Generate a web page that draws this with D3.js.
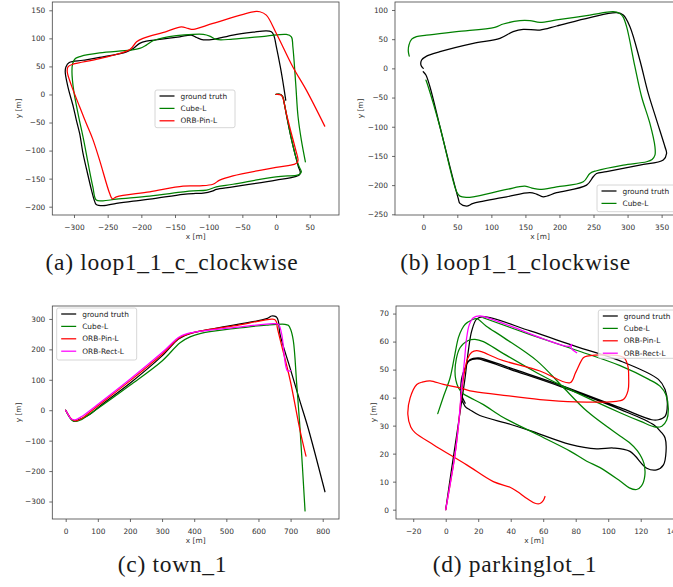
<!DOCTYPE html>
<html>
<head>
<meta charset="utf-8">
<script src="https://cdn.jsdelivr.net/npm/d3@7"></script>
<style>
  body { margin: 0; background: #fff; overflow: hidden; }
  svg { display: block; }
</style>
</head>
<body>
<svg id="fig" width="673" height="587"></svg>
<script>
// ---- (a) loop1_1_c_clockwise ----
const loopC_gt = [[0,0],[7,0],[10,-4],[12,-15],[16,-40],[22,-75],[28,-105],[33,-128],[36,-138],[35,-143],[30,-146],[0,-152.7],[-64,-164.6],[-88.6,-169],[-93.6,-171.7],[-108,-176],[-123,-176.5],[-138,-178],[-187.6,-186.6],[-212,-190],[-237,-194],[-257,-198],[-267,-196],[-270,-188],[-274,-170.5],[-281,-135],[-286.6,-105],[-291.6,-69.5],[-296.5,-45.8],[-301,-22],[-309,13.7],[-313,40],[-312,49],[-307,57],[-286.6,61],[-262,66],[-222,76],[-212,82],[-202.5,91],[-192.6,95],[-172.8,98],[-143,102.8],[-125.7,105.8],[-118,101.6],[-108,97.4],[-93.6,98],[-64,105.8],[-34,111],[-14.4,113.5],[-7,111.7],[-3.5,105.8],[0.5,85],[6.4,49],[11.4,13.7],[14.4,-10]];
const loopC_cube = [[0,0],[7,0],[10,-4],[13,-20],[17,-45],[23,-80],[29,-110],[34,-128],[37.6,-138],[35,-142],[30,-144],[0,-146.8],[-64,-160],[-88.6,-164.6],[-103,-170.5],[-123,-171.7],[-138,-173.5],[-187.6,-181],[-237,-186.6],[-257,-189.5],[-267,-188],[-272,-164.6],[-279,-123],[-285.6,-81.4],[-294,-34],[-300.5,7.7],[-303,40],[-302,55],[-298,64],[-290,68],[-262,74],[-217,79],[-202.5,82],[-192.6,88],[-182.7,95.7],[-167.8,101],[-123,107],[-108,107],[-98.5,104],[-88.6,98],[-64,98.6],[-14.4,104],[15.3,107],[22.8,102.8],[25,85],[29.2,19.6],[32.7,-39.8],[37.6,-81.4],[43.6,-120]];
const loopC_orbPin = [[0,0],[7.9,-1.2],[10.4,-7],[15.3,-33.9],[22.8,-69.5],[29.2,-99],[32.7,-117],[31,-122],[27,-124.5],[0,-130],[-64,-145],[-83.7,-152.7],[-93.6,-160],[-113,-162.8],[-138,-163.4],[-187.6,-173.5],[-237,-182.4],[-243,-186],[-247,-176.5],[-262,-117],[-272,-80],[-281.7,-51.7],[-291.6,-22],[-304,16.6],[-310,40.4],[-308.9,49.3],[-301.5,54],[-262,64],[-217,80],[-207,94],[-197.5,100],[-163,112],[-140.6,120.6],[-130.7,117.6],[-123,116],[-93.6,126.6],[-34,147.4],[-24,147.4],[-14.4,141.4],[0.5,108.7],[25,49],[45,7.7],[72.3,-56.4]];

// ---- (b) loop1_1_clockwise ----
const loop_gt = [[0,0],[-3.4,5.7],[-2.4,14.3],[4.9,21],[24.5,28.6],[73.4,42.9],[112.6,51.4],[132,62.9],[146.8,66.9],[171.3,65.7],[195.8,72.6],[244.7,86.9],[283.9,95.4],[293.7,91.4],[303.5,71.4],[318,14.3],[330.4,-42.9],[342.6,-88.6],[354.9,-134.3],[357.3,-145.7],[352.4,-157],[318,-165.7],[269.2,-177],[254.5,-180],[249.6,-185.7],[239.8,-200],[195.8,-213],[176.2,-220],[166.4,-215.4],[156.6,-213],[122.4,-220],[73.4,-231.4],[63.6,-236],[53.8,-231.4],[51.4,-222.9],[39.2,-168.6],[24.5,-100],[9.8,-31.4],[3.9,-11.4],[0,-5.7]];
const loop_cube = [[-20.6,21],[-22,30],[-21,40],[-17,50],[-10,54.5],[4.9,57],[49,62.9],[105,70.3],[117.5,76],[142,81.7],[156.6,81.7],[171.3,78.9],[195.8,82.9],[244.7,91.4],[279,97],[288,94.5],[293,89],[298.6,71.4],[310.8,2.9],[320.6,-48.6],[332.8,-94.3],[340.2,-134.3],[340.2,-148.6],[336,-156],[328,-160],[293.7,-165.7],[254.5,-175.4],[244.7,-180],[235,-194.3],[195.8,-202.9],[171.3,-207.4],[161.5,-205.7],[149.3,-201.7],[122.4,-207.4],[73.4,-220],[63.6,-221],[53.8,-218.9],[49,-211.4],[24.5,-100],[7.3,-31.4],[3.9,-20]];

// ---- (c) town_1 ----
const town_gt = [[0,0],[8,-15],[13.5,-24],[23.9,-35],[30,-36],[39.4,-31.8],[75.7,-13],[106.9,14.2],[200,88.7],[300,178.5],[350,233],[370,245],[397.4,255],[470,270],[625.7,301],[641,309.6],[650,309],[657,305],[662,292],[667,250],[698,140],[729,30],[755,-60],[807,-268]];
const town_cube = [[0,0],[10,-20],[18.7,-31.8],[29,-37],[44.6,-32.8],[96.5,3.3],[200,82],[300,162],[356,222],[387,241],[418,252],[522,268],[625.7,280],[682.6,282.5],[693,279],[700,266],[708.6,228],[719,86.5],[729.4,-60.4],[745,-330.7]];
const town_orbPin = [[0,0],[10,-18],[18.7,-29.6],[32,-35],[49.8,-27.4],[99.6,14.2],[200,96.4],[300,184],[356,238.7],[397,255],[522,277],[641,299],[650,298],[656,290],[658.7,271.5],[698,101.8],[729.4,-66],[748,-151]];
const town_orbRect = [[0,0],[8,-15],[15.6,-27.4],[29,-31.8],[49.8,-20.8],[96.5,16.4],[200,101.8],[300,189.4],[356,242],[397,256],[522,271.5],[646,284.5],[662,282.5],[672.3,250],[690,130],[700,130]];

// ---- (d) parkinglot_1 ----
const park_gt = [[0,0],[3.7,14.8],[6.8,26.8],[9.8,38.7],[11.9,47],[13.9,56.6],[16,63.8],[19,68],[23.2,68.9],[52,63.8],[80,58.3],[107,53.2],[130.9,46.5],[135,42.9],[136.4,37.5],[135,33.3],[130.9,32.1],[126.8,32.1],[107.3,36.4],[70.4,44.5],[40,50.5],[25.2,53.5],[20,54.2],[15,53.6],[12.9,51.8],[10,47.1],[9.4,40.5],[11.9,36.9],[15,35.6],[21,33.6],[39.6,30.5],[51.9,28.2],[76.5,23.3],[92.9,21.7],[103.2,22],[113.4,20.8],[123.7,14.8],[129.8,14.2],[134,16],[135.6,20.8],[135,25.6],[133,27.4],[128,30.3],[107.3,35.8],[70.4,44],[40,50],[25,53],[19.5,53.8],[14.5,53.2],[12.5,51.3],[9.7,46.5],[9.8,41],[12,38]];
const park_cube = [[23,68.5],[52,62.5],[80,57],[107.3,51.4],[125,46.5],[132,44],[135.5,41],[137,36],[136,32],[133,29.8],[129,29.5],[120,31.5],[107.3,34.6],[72.4,44],[56,48.9],[35.5,55.7],[23.2,60],[18,60.8],[13.9,60.4],[8.8,57.8],[5.7,49.5],[7.8,43.5],[11,41.3],[15,40],[23.2,37.5],[35.5,32.9],[56,26.9],[76.5,20.9],[86.8,17.3],[95,15],[107.3,10.2],[113,7.8],[117.5,7.2],[120.5,8.5],[122.5,12],[122,16.5],[118,21],[113,24],[107.3,26.3],[86.8,35.2],[72.4,43.6],[56,53.2],[35.5,61.5],[25,65.5],[19,68.2],[16,67.7],[12,66.2],[10,64.5],[7.8,61.4],[5.5,55],[2.7,47.1],[-1,41],[-4.9,34.3]];
const park_orbPin = [[0,0],[3,10],[5.7,19.6],[8,31],[9.8,42],[11.5,49],[13.5,54],[16,56.2],[19,56.8],[22,56.4],[33.4,53.6],[58,49.5],[76.5,45.3],[80,49],[84.7,54.2],[87,54.8],[109.3,54.4],[112,51.5],[112.6,47],[112.2,42.5],[109.3,39.3],[103.2,38.6],[80,38.5],[58,39.3],[33.4,41],[15,42.4],[8.8,43.5],[-1.4,44.7],[-9.6,46],[-14,45.6],[-17.8,44.7],[-21.9,39.9],[-23.3,34],[-21.5,29.5],[-18.9,27.5],[-7.6,23.2],[12.9,16],[29.3,10],[39.6,8],[44,6.5],[50,4],[55,2.3],[58,2.2],[60,3.2],[61.1,4.7]];
const park_orbRect = [[0,0],[3,10],[5.7,19.6],[8,31],[9.8,43.5],[11.5,53],[12.9,61.4],[14.5,66],[17,68.5],[21,69.2],[24,68.8],[40,65.5],[60,61],[76,58.3],[77.5,59],[77.2,57.7],[80.6,56]];

// ---- ticks ----
const ticksA_x = [-300,-250,-200,-150,-100,-50,0,50];
const ticksA_y = [-200,-150,-100,-50,0,50,100,150];
const ticksB_x = [0,50,100,150,200,250,300,350];
const ticksB_y = [-250,-200,-150,-100,-50,0,50,100];
const ticksC_x = [0,100,200,300,400,500,600,700,800];
const ticksC_y = [-300,-200,-100,0,100,200,300];
const ticksD_x = [-20,0,20,40,60,80,100,120,140];
const ticksD_y = [0,10,20,30,40,50,60,70];

const names = ["ground truth", "Cube-L", "ORB-Pin-L", "ORB-Rect-L"];
const colors = ["#000000", "#008000", "#ff0000", "#ff00ff"];

const panels = [
  {id: "a", left: 52.3, right: 339, top: 2, bottom: 215, xDomain: [-332.2, 93.5], yDomain: [-214.8, 164.8],
   xTicks: ticksA_x, yTicks: ticksA_y, series: [loopC_gt, loopC_cube, loopC_orbPin],
   xLabelX: 195.7, yLabelX: 18,
   legend: {x: 155, y: 90, w: 80, h: 37.7}, caption: "(a) loop1_1_c_clockwise", capX: 172, capY: 270},
  {id: "b", left: 395, right: 680, top: 2, bottom: 215, xDomain: [-41.5, 377], yDomain: [-251.2, 113.7],
   xTicks: ticksB_x, yTicks: ticksB_y, series: [loop_gt, loop_cube],
   xLabelX: 540, yLabelX: 360.7,
   legend: {x: 597, y: 185, w: 85, h: 26.7}, caption: "(b) loop1_1_clockwise", capX: 515.5, capY: 270},
  {id: "c", left: 52.3, right: 339, top: 306, bottom: 519, xDomain: [-41.7, 850.7], yDomain: [-357.5, 342.5],
   xTicks: ticksC_x, yTicks: ticksC_y, series: [town_gt, town_cube, town_orbPin, town_orbRect],
   xLabelX: 195.7, yLabelX: 18,
   legend: {x: 56.7, y: 308, w: 80, h: 52}, caption: "(c) town_1", capX: 172.5, capY: 572},
  {id: "d", left: 396, right: 681, top: 306, bottom: 519, xDomain: [-30.6, 144.8], yDomain: [-3.33, 72.7],
   xTicks: ticksD_x, yTicks: ticksD_y, series: [park_gt, park_cube, park_orbPin, park_orbRect],
   xLabelX: 534, yLabelX: 373.3,
   legend: {x: 598.3, y: 310, w: 85, h: 48.3}, caption: "(d) parkinglot_1", capX: 515, capY: 572}
];

const svg = d3.select("#fig");
const FONT = "'DejaVu Sans', sans-serif";
const FS = 7.4;

function drawPanel(p) {
  const x = d3.scaleLinear().domain(p.xDomain).range([p.left, p.right]);
  const y = d3.scaleLinear().domain(p.yDomain).range([p.bottom, p.top]);

  svg.append("clipPath").attr("id", "clip-" + p.id)
    .append("rect")
    .attr("x", p.left).attr("y", p.top)
    .attr("width", p.right - p.left).attr("height", p.bottom - p.top);

  const line = d3.line()
    .x(d => x(d[0]))
    .y(d => y(d[1]))
    .curve(d3.curveCatmullRom.alpha(0.5));

  const plot = svg.append("g").attr("clip-path", `url(#clip-${p.id})`);
  p.series.forEach((s, i) => {
    plot.append("path")
      .datum(s)
      .attr("d", line)
      .attr("fill", "none")
      .attr("stroke", colors[i])
      .attr("stroke-width", 1.25)
      .attr("stroke-linejoin", "round")
      .attr("stroke-linecap", "round");
  });

  const xAxis = svg.append("g")
    .attr("transform", `translate(0,${p.bottom})`)
    .call(d3.axisBottom(x).tickValues(p.xTicks).tickSize(3).tickPadding(6.5));
  const yAxis = svg.append("g")
    .attr("transform", `translate(${p.left},0)`)
    .call(d3.axisLeft(y).tickValues(p.yTicks).tickSize(3).tickPadding(4));
  [xAxis, yAxis].forEach(a => {
    a.select(".domain").remove();
    a.selectAll(".tick line").attr("stroke", "#444").attr("stroke-width", 0.8);
    a.selectAll(".tick text").attr("fill", "#333")
      .style("font-family", FONT).style("font-size", FS + "px");
  });

  svg.append("rect")
    .attr("x", p.left).attr("y", p.top)
    .attr("width", p.right - p.left).attr("height", p.bottom - p.top)
    .attr("fill", "none").attr("stroke", "#444").attr("stroke-width", 0.8);

  svg.append("text")
    .attr("x", p.xLabelX)
    .attr("y", p.bottom + 24)
    .attr("text-anchor", "middle")
    .style("font-family", FONT).style("font-size", FS + "px").attr("fill", "#333")
    .text("x [m]");

  svg.append("text")
    .attr("transform", `translate(${p.yLabelX + 2.6},${(p.top + p.bottom) / 2}) rotate(-90)`)
    .attr("text-anchor", "middle")
    .style("font-family", FONT).style("font-size", FS + "px").attr("fill", "#333")
    .text("y [m]");

  // legend
  const L = p.legend;
  const lg = svg.append("g");
  lg.append("rect")
    .attr("x", L.x).attr("y", L.y).attr("width", L.w).attr("height", L.h)
    .attr("rx", 2)
    .attr("fill", "#fff").attr("fill-opacity", 0.8)
    .attr("stroke", "#cccccc").attr("stroke-width", 0.8);
  p.series.forEach((s, i) => {
    const ry = L.y + 6 + i * 12.4;
    lg.append("line")
      .attr("x1", L.x + 4.5).attr("x2", L.x + 19.5)
      .attr("y1", ry).attr("y2", ry)
      .attr("stroke", colors[i]).attr("stroke-width", 1.25);
    lg.append("text")
      .attr("x", L.x + 25.5).attr("y", ry + 2.6)
      .style("font-family", FONT).style("font-size", FS + "px").attr("fill", "#222")
      .text(names[i]);
  });

  svg.append("text")
    .attr("x", p.capX).attr("y", p.capY)
    .attr("text-anchor", "middle")
    .style("font-family", "'Liberation Serif', 'DejaVu Serif', serif")
    .style("font-size", "23.5px").style("letter-spacing", "0.7px")
    .attr("fill", "#1a1a1a")
    .text(p.caption);
}

panels.forEach(drawPanel);
</script>
</body>
</html>
